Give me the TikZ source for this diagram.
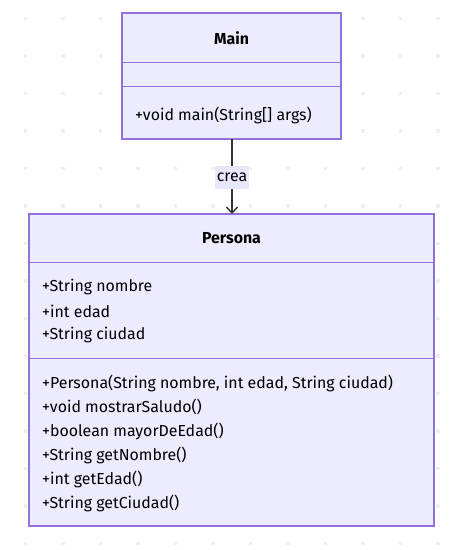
\documentclass[tikz,border=0pt]{standalone}
\usepackage{fontspec}
\setmainfont{Fira Sans}
\usetikzlibrary{arrows.meta,positioning}
\definecolor{boxfill}{HTML}{ECECFF}
\definecolor{boxline}{HTML}{9370DB}
\definecolor{txt}{HTML}{333333}
\definecolor{dotc}{HTML}{EFEFEF}
\definecolor{lblbg}{HTML}{E8E8FC}
\tikzset{
  classbox/.style={draw=boxline, fill=boxfill, line width=1.2pt},
  divider/.style={draw=boxline, line width=1pt},
  member/.style={anchor=west, inner sep=0pt, text=black, font=\fontsize{15.9}{18}\selectfont},
  title/.style={inner sep=0pt, text=black, font=\fontsize{15.9}{18}\selectfont\bfseries},
  conn/.style={draw=txt, line width=1.2pt, -{Straight Barb[length=6pt,width=11pt,line width=1.4pt]}},
  lbl/.style={fill=lblbg, inner xsep=1.5pt, inner ysep=0pt, minimum height=23pt, text=black, font=\fontsize{15.9}{18}\selectfont},
  gdot/.style={fill=dotc, draw=none}
}
\begin{document}
\begin{tikzpicture}[x=1pt,y=-1pt]
\useasboundingbox (0,0) rectangle (472,550);
% dot grid
\foreach \i in {0,...,11} {
  \foreach \j in {0,...,14} {
    \fill[gdot] ({23.5+37.5*\i},{16.5+37.5*\j}) rectangle ++(3.5,3.5);
  }
}
% Main class
\path[classbox] (122,13) rectangle (341,139);
\draw[divider] (122,62) -- (341,62);
\draw[divider] (122,86) -- (341,86);
\node[title] (mainT) at (231.5,38) {Main};
\node[member] (mainM1) at (135,115) {+void main(String[] args)};
\coordinate (mainB) at (232,139);
% Persona class
\path[classbox] (29,214) rectangle (434,526);
\draw[divider] (29,262) -- (434,262);
\draw[divider] (29,358) -- (434,358);
\coordinate (perT) at (232,214);
\node[title] (perTitle) at (231.5,238) {Persona};
\node[member] (a1) at (42,287) {+String nombre};
\node[member] (a2) at (42,311) {+int edad};
\node[member] (a3) at (42,335) {+String ciudad};
\node[member] (m1) at (42,383) {+Persona(String nombre, int edad, String ciudad)};
\node[member] (m2) at (42,407) {+void mostrarSaludo()};
\node[member] (m3) at (42,431) {+boolean mayorDeEdad()};
\node[member] (m4) at (42,455) {+String getNombre()};
\node[member] (m5) at (42,479) {+int getEdad()};
\node[member] (m6) at (42,503) {+String getCiudad()};
% connector
\draw[conn] (mainB) -- (perT);
\node[lbl] (crea) at (232,177) {crea};
\end{tikzpicture}
\end{document}
